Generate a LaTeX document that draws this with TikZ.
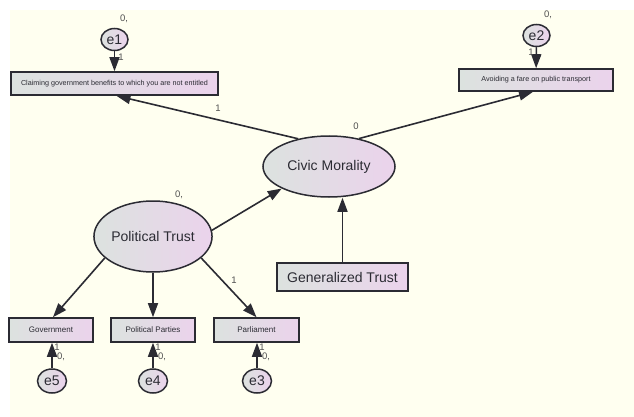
\documentclass[tikz,border=0pt]{standalone}
\usepackage{fontspec}
\setmainfont{Liberation Sans}
\usetikzlibrary{arrows.meta,shapes.geometric,calc}
\definecolor{bgc}{HTML}{FFFFF0}
\definecolor{lc}{HTML}{DCE2DF}
\definecolor{rc}{HTML}{EBD3EC}
\definecolor{ink}{HTML}{2B2B33}
\definecolor{parc}{HTML}{505050}
\begin{document}
\begin{tikzpicture}[x=1pt,y=-1pt,
  every node/.style={text=ink},
  obs/.style={draw=ink, line width=1.6pt, rectangle, inner sep=0pt, left color=lc, right color=rc},
  lat/.style={draw=ink, line width=1.5pt, ellipse, inner sep=0pt, left color=lc, right color=rc},
  arr/.style={draw=ink, line width=1.6pt, -{Triangle[length=14pt,width=10pt]}},
  par/.style={font=\fontsize{9.5}{9.5}\selectfont, text=parc, inner sep=0pt},
  big/.style={font=\fontsize{14}{14}\selectfont},
  tiny/.style={font=\fontsize{7.2}{7.2}\selectfont},
  small/.style={font=\fontsize{8}{8}\selectfont}
]
\useasboundingbox (0,0) rectangle (634,417);
\fill[white] (0,0) rectangle (634,417);
\fill[bgc] (10,10) rectangle (634,417);

% observed boxes
\node[obs, tiny, minimum width=207pt, minimum height=23pt] (claim) at (114.5,83.5) {Claiming government benefits to which you are not entitled};
\node[obs, tiny, minimum width=154pt, minimum height=22pt] (avoid) at (536,80) {Avoiding a fare on public transport};
\node[obs, big, minimum width=131pt, minimum height=28pt] (gt) at (342.5,277) {Generalized Trust};
\node[obs, small, minimum width=84pt, minimum height=24pt] (gov) at (51,330) {Government};
\node[obs, small, minimum width=84pt, minimum height=24pt] (parties) at (153,330) {Political Parties};
\node[obs, small, minimum width=85pt, minimum height=24pt] (parl) at (256.5,330) {Parliament};

% latent variables
\node[lat, big, minimum width=132pt, minimum height=61pt] (civic) at (329,166.5) {Civic Morality};
\node[lat, big, minimum width=115pt, minimum height=71pt] (pt) at (153,236.5) {Political Trust};

% error terms
\node[lat, big, minimum width=27pt, minimum height=22pt] (e1) at (114.5,39.5) {e1};
\node[lat, big, minimum width=27pt, minimum height=22pt] (e2) at (536.5,35.5) {e2};
\node[lat, big, minimum width=29pt, minimum height=24pt] (e5) at (52,381) {e5};
\node[lat, big, minimum width=29pt, minimum height=24pt] (e4) at (153,381) {e4};
\node[lat, big, minimum width=29pt, minimum height=24pt] (e3) at (257,381) {e3};

% connectors
\draw[arr] (e1) -- (claim);
\draw[arr] (e2) -- (avoid);
\draw[arr] (civic.138) -- ($(claim.south)+(2,0)$);
\draw[arr] (civic.43) -- ($(avoid.south)+(-3,0)$);
\draw[arr] (gt.north) -- (gt.north |- civic.south);
\draw[arr] (pt.6) -- (civic.205);
\draw[arr] (pt.204) -- ($(gov.north)+(2,0)$);
\draw[arr] (pt.south) -- (parties.north);
\draw[arr] (pt.336) -- (parl.north);
\draw[arr] (e5.north) -- (e5.north |- gov.south);
\draw[arr] (e4.north) -- (e4.north |- parties.south);
\draw[arr] (e3.north) -- (e3.north |- parl.south);

% parameter labels
\node[par] (v1) at (124,19) {0,};
\node[par] (v2) at (548,15) {0,};
\node[par] (f1) at (121,57) {1};
\node[par] (f2) at (531,52) {1};
\node[par] (fc1) at (218,108) {1};
\node[par] (vc) at (356,126) {0};
\node[par] (vp) at (179,195) {0,};
\node[par] (fp) at (234,280) {1};
\node[par] (f5) at (57,347) {1};
\node[par] (v5) at (61,357) {0,};
\node[par] (f4) at (158,347) {1};
\node[par] (v4) at (162,357) {0,};
\node[par] (f3) at (262,347) {1};
\node[par] (v3) at (266,357) {0,};
\end{tikzpicture}
\end{document}
